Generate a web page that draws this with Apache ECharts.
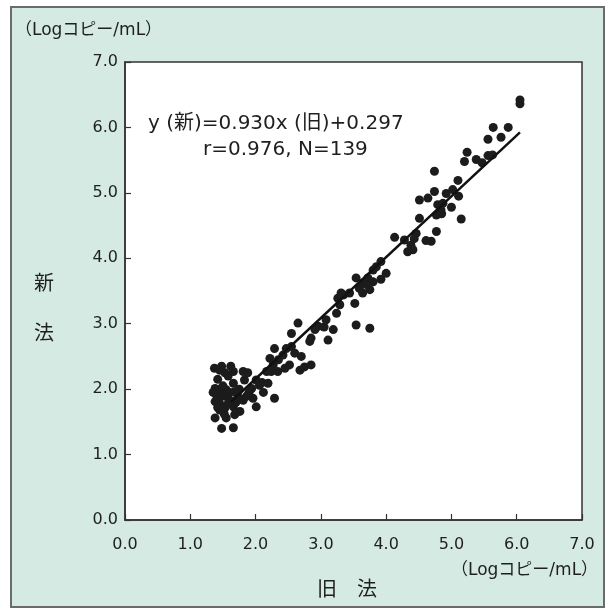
<!DOCTYPE html>
<html>
<head>
<meta charset="utf-8">
<script src="https://cdn.jsdelivr.net/npm/echarts@6/dist/echarts.min.js"></script>
<style>
  html, body { margin: 0; padding: 0; background: #ffffff; }
  #chart { width: 608px; height: 610px; }
</style>
</head>
<body>
<div id="chart"></div>
<script>
// 旧法 (x) vs 新法 (y), Log copies/mL
const oldMethod = [
  1.37,1.45,1.53,1.62,1.66,1.58,1.81,1.83,1.66,1.38,1.45,1.55,1.40,1.48,1.55,1.68,1.73,1.94,2.01,1.96,
  1.38,1.45,1.61,1.66,1.81,1.86,2.01,1.45,1.53,1.76,1.68,1.38,1.55,1.48,1.66,2.29,2.06,2.10,2.19,2.17,
  2.24,2.22,2.29,2.27,2.42,2.47,2.55,2.34,2.45,2.52,2.70,2.68,2.75,2.85,2.55,2.65,2.85,2.91,
  1.42,1.50,1.60,1.42,1.52,1.70,1.75,1.90,1.35,1.58,1.88,2.12,2.35,2.60,1.48,
  2.96,3.08,3.24,3.29,3.26,3.31,3.44,3.52,3.64,3.75,3.59,3.64,3.80,3.54,3.72,3.92,4.00,3.80,3.85,3.92,
  3.54,3.75,3.19,3.11,2.83,
  4.13,4.28,4.38,4.41,4.33,4.46,4.61,4.69,4.77,4.51,4.77,4.84,4.79,4.51,4.64,4.74,4.92,4.74,
  6.05,6.05,5.64,5.87,5.56,5.76,5.24,5.20,5.38,5.56,5.63,5.47,5.10,5.11,4.87,5.00,5.15,
  3.35,3.70,4.85,5.02,3.05,4.43
];
const newMethod = [
  2.32,2.29,2.25,2.35,2.27,2.20,2.27,2.14,2.09,2.01,1.99,1.99,1.91,1.89,1.89,1.96,1.89,2.01,2.14,1.86,
  1.81,1.78,1.83,1.73,1.83,1.89,1.73,1.68,1.71,1.66,1.61,1.56,1.56,1.40,1.41,1.86,2.06,2.10,2.09,2.27,
  2.27,2.47,2.62,2.37,2.52,2.62,2.65,2.27,2.32,2.37,2.50,2.29,2.34,2.37,2.85,3.01,2.78,2.91,
  2.15,2.05,1.95,1.72,1.62,1.80,2.00,1.95,1.95,1.78,2.25,1.95,2.45,2.55,2.35,
  2.96,3.06,3.16,3.29,3.39,3.47,3.47,3.31,3.47,3.52,3.54,3.62,3.64,3.70,3.70,3.68,3.77,3.82,3.87,3.95,
  2.98,2.93,2.91,2.75,2.73,
  4.32,4.28,4.20,4.13,4.10,4.38,4.27,4.26,4.41,4.61,4.66,4.74,4.82,4.89,4.92,5.02,4.99,5.33,
  6.42,6.36,6.00,6.00,5.82,5.85,5.62,5.48,5.51,5.57,5.58,5.46,5.19,4.95,4.84,4.78,4.60,
  3.44,3.60,4.68,5.05,2.95,4.30
];

// Regression fit printed on the chart
const slope = 0.930;
const intercept = 0.297;
const fitRange = [1.62, 6.05];
const rValue = '0.976';
const sampleCount = 139;

const tickValues = [0, 1, 2, 3, 4, 5, 6, 7];
const unitLabel = '（Logコピー/mL）';

const points = oldMethod.map((x, i) => [x, newMethod[i]]);
const fitLine = fitRange.map(x => [x, slope * x + intercept]);

const FONT = '"DejaVu Sans", "Noto Sans CJK JP", sans-serif';
const JP = '"Noto Sans CJK JP", sans-serif';
const TXT = '#1f1f1f';

const chart = echarts.init(document.getElementById('chart'));

const axisCommon = {
  type: 'value',
  min: tickValues[0],
  max: tickValues[tickValues.length - 1],
  interval: 1,
  axisLine: { show: true, lineStyle: { color: '#333', width: 1.5 } },
  axisTick: { show: true, inside: true, length: 6, lineStyle: { color: '#333', width: 1.2 } },
  splitLine: { show: false },
  axisLabel: {
    color: TXT, fontFamily: FONT, fontSize: 16,
    formatter: v => v.toFixed(1)
  }
};

chart.setOption({
  animation: false,
  backgroundColor: '#ffffff',
  graphic: [
    {
      type: 'rect', z: -10, silent: true,
      shape: { x: 11, y: 7, width: 593, height: 600 },
      style: { fill: '#d5eae2', stroke: '#6b6b6b', lineWidth: 2 }
    },
    { type: 'text', left: 15, top: 22, style: { text: unitLabel, font: '17px ' + FONT, fill: TXT } },
    { type: 'text', left: 451, top: 562, style: { text: unitLabel, font: '17px ' + FONT, fill: TXT } },
    { type: 'text', left: 317, top: 578, style: { text: '旧　法', font: '20px ' + JP, fill: TXT } },
    { type: 'text', left: 34, top: 272, style: { text: '新', font: '20px ' + JP, fill: TXT } },
    { type: 'text', left: 34, top: 322, style: { text: '法', font: '20px ' + JP, fill: TXT } },
    {
      type: 'text', left: 148, top: 114, z: 10,
      style: { text: 'y (新)=0.930x (旧)+0.297', font: '20px ' + FONT, fill: TXT }
    },
    {
      type: 'text', left: 203, top: 140, z: 10,
      style: { text: 'r=' + rValue + ', N=' + sampleCount, font: '20px ' + FONT, fill: TXT }
    }
  ],
  grid: {
    left: 125, top: 62, right: 26, bottom: 90,
    show: true, backgroundColor: '#ffffff', borderColor: '#333', borderWidth: 1.5
  },
  xAxis: Object.assign({}, axisCommon, {
    axisLabel: Object.assign({}, axisCommon.axisLabel, { margin: 17 })
  }),
  yAxis: Object.assign({}, axisCommon, {
    axisLabel: Object.assign({}, axisCommon.axisLabel, { margin: 7 })
  }),
  series: [
    {
      type: 'scatter',
      data: points,
      symbolSize: 9,
      itemStyle: { color: '#1c1c1c', opacity: 1 }
    },
    {
      type: 'line',
      data: fitLine,
      symbol: 'none',
      lineStyle: { color: '#111', width: 2.5 },
      z: 3
    }
  ]
});
</script>
</body>
</html>
